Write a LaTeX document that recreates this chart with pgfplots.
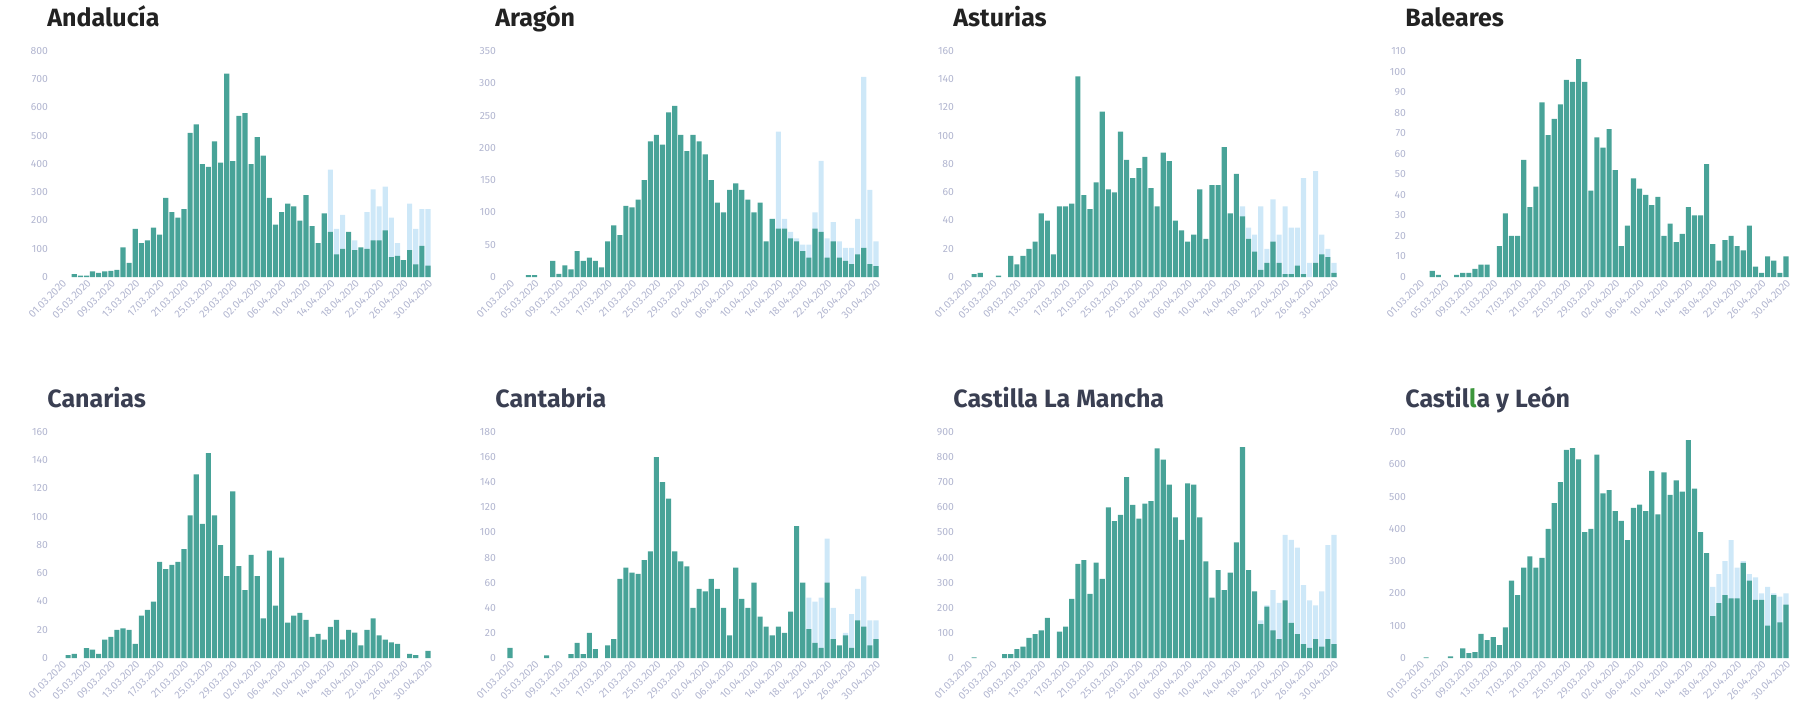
\documentclass[border=0pt]{standalone}
\usepackage{fontspec}
\setmainfont{Fira Sans}
\usepackage{pgfplots}
\pgfplotsset{compat=1.18}
\definecolor{barteal}{RGB}{72,163,152}
\definecolor{barlight}{RGB}{206,232,248}
\definecolor{ticktxt}{RGB}{178,182,208}
\definecolor{titleA}{RGB}{34,34,34}
\definecolor{titleB}{RGB}{58,63,82}
\definecolor{oddgreen}{RGB}{60,150,60}

\pgfplotsset{
  panel/.style={
    scale only axis, width=186pt, height=113pt,
    anchor=south west,
    xmin=-0.5, xmax=60.5, ymin=0,
    axis line style={draw=none},
    major tick length=0pt,
    xtick={0,4,...,60},
    xticklabels={01.03.2020,05.03.2020,09.03.2020,13.03.2020,17.03.2020,21.03.2020,25.03.2020,29.03.2020,02.04.2020,06.04.2020,10.04.2020,14.04.2020,18.04.2020,22.04.2020,26.04.2020,30.04.2020},
    xticklabel style={rotate=45, anchor=north east, font=\fontsize{5.3}{6}\selectfont, text=ticktxt, inner sep=0.5pt},
    yticklabel style={font=\fontsize{5.2}{6}\selectfont, text=ticktxt, xshift=-2pt},
    /pgf/number format/assume math mode=true,
    scaled y ticks=false,
    title style={at={(0,1)}, anchor=base west, xshift=-6pt, yshift=6.5pt,
      font=\fontsize{12.5}{14}\selectfont\bfseries, text=titleA, inner sep=0pt},
  },
  toprow/.style={panel},
  botrow/.style={panel, title style={text=titleB}},
  teal bars/.style={ybar, bar width=0.84, bar shift=0pt, fill=barteal, draw=none},
  light bars/.style={ybar, bar width=0.84, bar shift=0pt, fill=barlight, draw=none},
}

\begin{document}
\begin{tikzpicture}
\path[use as bounding box] (0,0) rectangle (898pt,360pt);

% ---- Andalucía
\begin{axis}[toprow, at={(29.5pt,221.5pt)}, title={Andalucía}, ymax=800, ytick={0,100,...,800}]
\addplot[light bars] coordinates {(44,380) (45,170) (46,220) (48,130) (50,230) (51,310) (52,250) (53,320) (54,210) (55,120) (57,260) (58,170) (59,240) (60,240)};
\addplot[teal bars] coordinates {(2,10) (3,5) (4,5) (5,20) (6,15) (7,20) (8,22) (9,25) (10,105) (11,50) (12,170) (13,120) (14,130) (15,175) (16,150) (17,280) (18,230) (19,210) (20,240) (21,510) (22,540) (23,400) (24,390) (25,480) (26,405) (27,720) (28,410) (29,570) (30,580) (31,400) (32,495) (33,430) (34,280) (35,185) (36,230) (37,260) (38,250) (39,200) (40,290) (41,180) (42,120) (43,225) (44,160) (45,80) (46,100) (47,160) (48,95) (49,105) (50,100) (51,130) (52,130) (53,165) (54,70) (55,75) (56,60) (57,95) (58,45) (59,110) (60,40)};
\end{axis}

% ---- Aragón
\begin{axis}[toprow, at={(253.5pt,221.5pt)}, title={Aragón}, ymax=350, ytick={0,50,...,350}]
\addplot[light bars] coordinates {(43,90) (44,225) (45,90) (46,70) (47,60) (48,50) (49,50) (50,100) (51,180) (52,60) (53,85) (54,55) (55,45) (56,45) (57,90) (58,310) (59,135) (60,55)};
\addplot[teal bars] coordinates {(3,3) (4,3) (7,25) (8,5) (9,18) (10,12) (11,40) (12,25) (13,30) (14,25) (15,15) (16,55) (17,80) (18,65) (19,110) (20,108) (21,120) (22,150) (23,210) (24,220) (25,205) (26,255) (27,265) (28,220) (29,195) (30,220) (31,210) (32,190) (33,150) (34,115) (35,100) (36,135) (37,145) (38,135) (39,120) (40,100) (41,115) (42,55) (43,90) (44,75) (45,75) (46,60) (47,55) (48,40) (49,30) (50,75) (51,70) (52,30) (53,55) (54,30) (55,25) (56,20) (57,35) (58,45) (59,20) (60,17)};
\end{axis}

% ---- Asturias
\begin{axis}[toprow, at={(482.5pt,221.5pt)}, title={Asturias}, ymax=160, ytick={0,20,...,160}]
\addplot[light bars] coordinates {(45,50) (46,35) (47,30) (48,50) (49,20) (50,55) (51,30) (52,50) (53,35) (54,35) (55,70) (56,10) (57,75) (58,30) (59,20) (60,10)};
\addplot[teal bars] coordinates {(1,2) (2,3) (5,1) (7,15) (8,9) (9,15) (10,20) (11,25) (12,45) (13,40) (14,16) (15,50) (16,50) (17,52) (18,142) (19,58) (20,48) (21,67) (22,117) (23,62) (24,60) (25,103) (26,83) (27,70) (28,77) (29,85) (30,63) (31,50) (32,88) (33,82) (34,40) (35,33) (36,25) (37,30) (38,62) (39,27) (40,65) (41,65) (42,92) (43,45) (44,73) (45,43) (46,27) (47,18) (48,5) (49,10) (50,25) (51,10) (52,2) (53,2) (54,8) (55,2) (57,10) (58,16) (59,14) (60,3)};
\end{axis}

% ---- Baleares
\begin{axis}[toprow, at={(708.5pt,221.5pt)}, title={Baleares}, ymax=110, ytick={0,10,...,110}]
\addplot[teal bars] coordinates {(2,3) (3,1) (6,1) (7,2) (8,2) (9,4) (10,6) (11,6) (13,15) (14,31) (15,20) (16,20) (17,57) (18,34) (19,44) (20,85) (21,69) (22,77) (23,84) (24,96) (25,95) (26,106) (27,95) (28,42) (29,68) (30,63) (31,72) (32,52) (33,15) (34,25) (35,48) (36,43) (37,40) (38,35) (39,39) (40,20) (41,26) (42,17) (43,21) (44,34) (45,30) (46,30) (47,55) (48,16) (49,8) (50,18) (51,20) (52,15) (53,13) (54,25) (55,5) (56,2) (57,10) (58,8) (59,2) (60,10)};
\end{axis}

% ---- Canarias
\begin{axis}[botrow, at={(29.5pt,31pt)}, title={Canarias}, ymax=160, ytick={0,20,...,160}]
\addplot[teal bars] coordinates {(1,2) (2,3) (4,7) (5,6) (6,3) (7,13) (8,15) (9,20) (10,21) (11,20) (12,10) (13,30) (14,34) (15,40) (16,68) (17,63) (18,66) (19,68) (20,77) (21,101) (22,130) (23,95) (24,145) (25,101) (26,80) (27,58) (28,118) (29,65) (30,48) (31,73) (32,58) (33,28) (34,76) (35,37) (36,71) (37,25) (38,30) (39,32) (40,27) (41,15) (42,17) (43,13) (44,22) (45,27) (46,13) (47,20) (48,18) (49,9) (50,20) (51,28) (52,16) (53,13) (54,11) (55,10) (57,3) (58,2) (60,5)};
\end{axis}

% ---- Cantabria
\begin{axis}[botrow, at={(253.5pt,31pt)}, title={Cantabria}, ymax=180, ytick={0,20,...,180}]
\addplot[light bars] coordinates {(48,30) (49,48) (50,45) (51,48) (52,95) (53,40) (55,20) (56,35) (57,55) (58,65) (59,30) (60,30)};
\addplot[teal bars] coordinates {(0,8) (6,2) (10,3) (11,12) (12,3) (13,20) (14,7) (16,10) (17,15) (18,63) (19,72) (20,68) (21,67) (22,78) (23,85) (24,160) (25,140) (26,127) (27,85) (28,77) (29,73) (30,40) (31,55) (32,53) (33,63) (34,55) (35,40) (36,18) (37,72) (38,47) (39,40) (40,60) (41,33) (42,25) (43,18) (44,25) (45,20) (46,37) (47,105) (48,60) (49,23) (50,12) (51,8) (52,60) (53,15) (54,10) (55,18) (56,8) (57,30) (58,25) (59,10) (60,15)};
\end{axis}

% ---- Castilla La Mancha
\begin{axis}[botrow, at={(482.5pt,31pt)}, title={Castilla La Mancha}, ymax=900, ytick={0,100,...,900}]
\addplot[light bars] coordinates {(48,150) (49,210) (50,270) (51,220) (52,490) (53,470) (54,440) (55,290) (56,230) (57,210) (58,265) (59,450) (60,490)};
\addplot[teal bars] coordinates {(1,3) (6,15) (7,15) (8,35) (9,45) (10,80) (11,95) (12,110) (13,160) (15,105) (16,125) (17,235) (18,375) (19,390) (20,255) (21,380) (22,315) (23,600) (24,545) (25,570) (26,720) (27,610) (28,555) (29,615) (30,625) (31,835) (32,790) (33,690) (34,560) (35,470) (36,695) (37,690) (38,560) (39,385) (40,240) (41,350) (42,270) (43,340) (44,460) (45,840) (46,350) (47,265) (48,135) (49,205) (50,110) (51,75) (52,230) (53,140) (54,95) (55,55) (56,40) (57,75) (58,45) (59,75) (60,55)};
\end{axis}

% ---- Castilla y León
\begin{axis}[botrow, at={(708.5pt,31pt)}, title={Castil{\color{oddgreen}l}a y León}, ymax=700, ytick={0,100,...,700}]
\addplot[light bars] coordinates {(48,220) (49,260) (50,300) (51,365) (52,280) (53,300) (54,260) (55,250) (56,200) (57,220) (58,200) (59,190) (60,200)};
\addplot[teal bars] coordinates {(1,2) (5,5) (7,30) (8,15) (9,18) (10,75) (11,55) (12,65) (13,40) (14,95) (15,240) (16,195) (17,280) (18,315) (19,280) (20,310) (21,400) (22,480) (23,545) (24,645) (25,650) (26,615) (27,390) (28,400) (29,630) (30,510) (31,520) (32,455) (33,425) (34,365) (35,465) (36,475) (37,455) (38,580) (39,445) (40,575) (41,505) (42,550) (43,515) (44,675) (45,525) (46,390) (47,325) (48,130) (49,170) (50,195) (51,185) (52,185) (53,295) (54,240) (55,180) (56,180) (57,100) (58,195) (59,110) (60,165)};
\end{axis}
\end{tikzpicture}
\end{document}
